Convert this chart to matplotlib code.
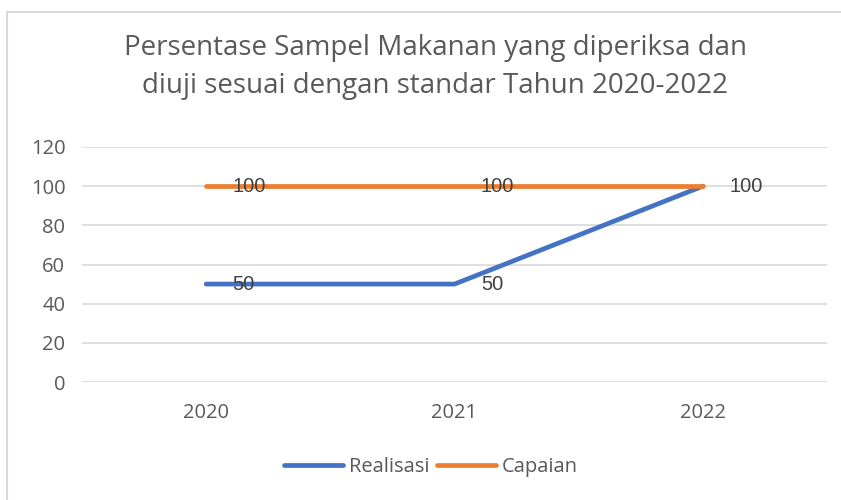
import matplotlib
matplotlib.use("Agg")
import matplotlib.pyplot as plt
from matplotlib.patches import Rectangle

years = ["2020", "2021", "2022"]
realisasi = [50, 50, 100]
capaian = [100, 100, 100]

fig = plt.figure(figsize=(8.41, 5.0), dpi=100)
fig.patches.append(Rectangle((7/841, -0.1), 1.2, 1 - 12/500 + 0.1, transform=fig.transFigure,
                             fill=False, edgecolor="#d9d9d9", linewidth=1.5))

ax = fig.add_axes([82/841, 1 - 382/500, (827 - 82)/841, (382 - 147)/500])
x = range(len(years))
ax.plot(x, realisasi, color="#4472C4", lw=3.4, solid_capstyle="round", label="Realisasi", zorder=3)
ax.plot(x, capaian, color="#ED7D31", lw=3.4, solid_capstyle="round", label="Capaian", zorder=3)

for xi, v in zip(x, realisasi):
    ax.annotate(str(v), (xi, v), xytext=(19, 0), textcoords="offset points", va="center",
                fontsize=14.5, color="#404040", family="Liberation Sans", zorder=4)
for xi, v in zip(x[:2], capaian[:2]):
    ax.annotate(str(v), (xi, v), xytext=(19, 0), textcoords="offset points", va="center",
                fontsize=14.5, color="#404040", family="Liberation Sans", zorder=4)

ax.set_xlim(-0.5, 2.5)
ax.set_ylim(0, 120)
ax.set_yticks(range(0, 121, 20))
ax.set_xticks(list(x))
ax.set_xticklabels(years)
ax.grid(axis="y", color="#d9d9d9", lw=1.2)
ax.set_axisbelow(True)
for s in ax.spines.values():
    s.set_visible(False)
ax.tick_params(length=0, labelsize=14.5, labelcolor="#595959", pad=12)
ax.tick_params(axis="x", pad=15)
for lab in ax.get_xticklabels() + ax.get_yticklabels():
    lab.set_family("Open Sans")

fig.text(435/841, 1 - 67/500, "Persentase Sampel Makanan yang diperiksa dan\ndiuji sesuai dengan standar Tahun 2020-2022",
         ha="center", va="center", fontsize=20, color="#595959", family="Open Sans", linespacing=1.5)

fig.legend(loc="center", bbox_to_anchor=(431/841, 1 - 467/500), ncol=2, frameon=False,
           prop={"family": "Open Sans", "size": 14.5}, labelcolor="#595959",
           handlelength=2.9, columnspacing=0.4, handletextpad=0.3)

fig.savefig("out.png", dpi=100, facecolor="white")
